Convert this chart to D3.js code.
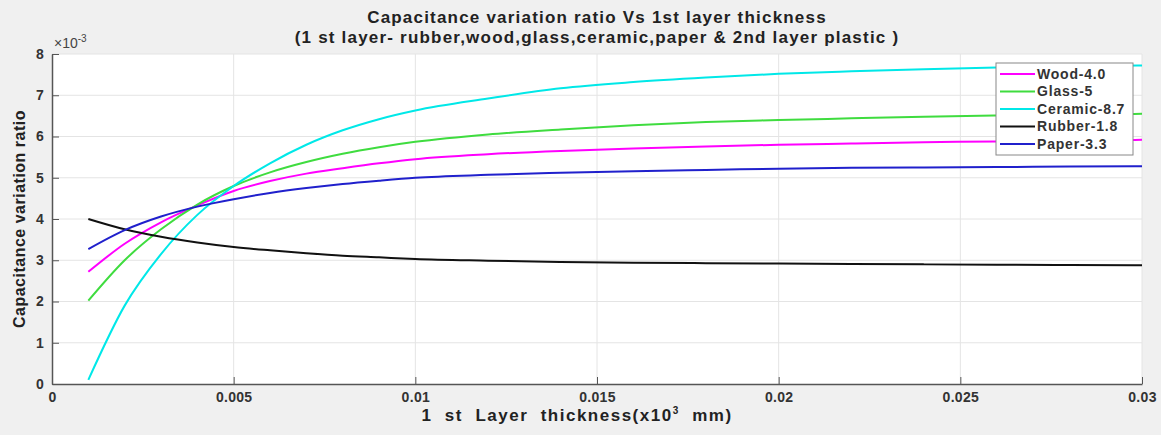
<!DOCTYPE html>
<html>
<head>
<meta charset="utf-8">
<script src="https://cdn.jsdelivr.net/npm/d3@7"></script>
<style>
  body { margin: 0; background: #f0f0f0; }
  svg { display: block; font-family: "Liberation Sans", Arial, sans-serif; }
</style>
</head>
<body>
<div id="chart"></div>
<script>
// thickness (x10^3 mm)
const thickness = [0.001, 0.002, 0.003, 0.004, 0.005, 0.006, 0.007, 0.008, 0.009, 0.01,
                   0.012, 0.014, 0.016, 0.018, 0.02, 0.022, 0.024, 0.026, 0.028, 0.03];

// capacitance variation ratio, in units of 1e-3
const wood    = [2.72, 3.40, 3.92, 4.33, 4.68, 4.92, 5.10, 5.23, 5.35, 5.45, 5.57, 5.65, 5.71, 5.76, 5.80, 5.83, 5.86, 5.88, 5.90, 5.92];
const glass   = [2.02, 3.00, 3.75, 4.35, 4.80, 5.13, 5.38, 5.58, 5.74, 5.87, 6.05, 6.17, 6.27, 6.35, 6.40, 6.44, 6.48, 6.51, 6.53, 6.55];
const ceramic = [0.10, 1.90, 3.15, 4.10, 4.80, 5.35, 5.80, 6.15, 6.42, 6.63, 6.92, 7.17, 7.32, 7.43, 7.52, 7.58, 7.63, 7.67, 7.70, 7.72];
const rubber  = [4.00, 3.75, 3.57, 3.43, 3.32, 3.24, 3.17, 3.11, 3.07, 3.03, 2.99, 2.96, 2.94, 2.93, 2.92, 2.91, 2.90, 2.89, 2.885, 2.88];
const paper   = [3.27, 3.73, 4.06, 4.30, 4.48, 4.63, 4.75, 4.85, 4.93, 5.00, 5.07, 5.12, 5.16, 5.19, 5.22, 5.24, 5.25, 5.26, 5.27, 5.28];

const seriesNames  = ["Wood-4.0", "Glass-5", "Ceramic-8.7", "Rubber-1.8", "Paper-3.3"];
const seriesColors = ["#ff00ff", "#3fdc3f", "#00e8e8", "#111111", "#2020cc"];
const seriesValues = [wood, glass, ceramic, rubber, paper];

const xTicks = [0, 0.005, 0.01, 0.015, 0.02, 0.025, 0.03];
const xTickLabels = ["0", "0.005", "0.01", "0.015", "0.02", "0.025", "0.03"];
const yTicks = [0, 1, 2, 3, 4, 5, 6, 7, 8];

const W = 1161, H = 435;
const margin = {top: 54, right: 19, bottom: 51, left: 52};
const width = W - margin.left - margin.right;
const height = H - margin.top - margin.bottom;

const svg = d3.select("#chart").append("svg")
    .attr("width", W).attr("height", H);

svg.append("rect").attr("width", W).attr("height", H).attr("fill", "#f0f0f0");

const g = svg.append("g")
    .attr("transform", "translate(" + margin.left + "," + margin.top + ")");

const x = d3.scaleLinear().domain([0, 0.03]).range([0, width]);
const y = d3.scaleLinear().domain([0, 8]).range([height, 0]);

// plot area
g.append("rect").attr("width", width).attr("height", height).attr("fill", "#ffffff");

// grid
g.append("g").selectAll("line").data(xTicks.slice(1)).enter().append("line")
    .attr("x1", d => x(d)).attr("x2", d => x(d))
    .attr("y1", 0).attr("y2", height)
    .attr("stroke", "#e4e4e4").attr("stroke-width", 1);
g.append("g").selectAll("line").data(yTicks.slice(1)).enter().append("line")
    .attr("x1", 0).attr("x2", width)
    .attr("y1", d => y(d)).attr("y2", d => y(d))
    .attr("stroke", "#e4e4e4").attr("stroke-width", 1);

// axes (ticks point inward)
const xAxis = d3.axisBottom(x).tickValues(xTicks)
    .tickFormat((d, i) => xTickLabels[i]).tickSizeInner(-7).tickSizeOuter(0).tickPadding(8);
const yAxis = d3.axisLeft(y).tickValues(yTicks)
    .tickFormat(d3.format("d")).tickSizeInner(-7).tickSizeOuter(0).tickPadding(8);

const gx = g.append("g").attr("transform", "translate(0," + height + ")").call(xAxis);
const gy = g.append("g").call(yAxis);

[gx, gy].forEach(a => {
  a.select(".domain").attr("stroke", "#555").attr("stroke-width", 1.5);
  a.selectAll(".tick line").attr("stroke", "#555").attr("stroke-width", 1);
  a.selectAll(".tick text").attr("fill", "#333").attr("font-size", 14)
    .attr("font-weight", "bold").attr("letter-spacing", 0.3)
    .attr("font-family", "Liberation Sans, Arial, sans-serif");
});

// exponent label
const expo = svg.append("text").attr("x", margin.left + 2).attr("y", margin.top - 6)
    .attr("fill", "#444").attr("font-size", 14);
expo.append("tspan").text("\u00d710");
expo.append("tspan").attr("dy", -6).attr("font-size", 10).text("-3");

// lines
const line = d3.line()
    .x((d, i) => x(thickness[i]))
    .y(d => y(d))
    .curve(d3.curveMonotoneX);

g.append("g").selectAll("path").data(seriesValues).enter().append("path")
    .attr("d", d => line(d))
    .attr("fill", "none")
    .attr("stroke", (d, i) => seriesColors[i])
    .attr("stroke-width", 2);

// title
const title = svg.append("text").attr("text-anchor", "middle")
    .attr("font-weight", "bold").attr("font-size", 17).attr("letter-spacing", 1.2)
    .attr("fill", "#222");
title.append("tspan").attr("x", margin.left + width / 2).attr("y", 23)
    .text("Capacitance variation ratio Vs 1st layer thickness");
title.append("tspan").attr("x", margin.left + width / 2).attr("y", 43)
    .text("(1 st layer- rubber,wood,glass,ceramic,paper & 2nd layer plastic  )");

// axis titles
const xl = svg.append("text").attr("text-anchor", "middle")
    .attr("x", 577).attr("y", 421)
    .attr("font-weight", "bold").attr("font-size", 17).attr("letter-spacing", 1.5)
    .attr("fill", "#222").attr("xml:space", "preserve");
xl.append("tspan").text("1  st  Layer  thickness(x10");
xl.append("tspan").attr("dy", -7).attr("font-size", 10).text("3");
xl.append("tspan").attr("dy", 7).text("  mm)");

svg.append("text").attr("text-anchor", "middle")
    .attr("transform", "translate(25," + (margin.top + height / 2) + ") rotate(-90)")
    .attr("font-weight", "bold").attr("font-size", 16).attr("letter-spacing", 0.5)
    .attr("fill", "#222")
    .text("Capacitance variation ratio");

// legend
const lg = svg.append("g").attr("transform", "translate(996,63)");
lg.append("rect").attr("width", 137).attr("height", 92)
    .attr("fill", "#ffffff").attr("stroke", "#888").attr("stroke-width", 1);
const items = lg.selectAll("g.item").data(seriesNames).enter().append("g")
    .attr("transform", (d, i) => "translate(0," + (11 + i * 17.5) + ")");
items.append("line").attr("x1", 4).attr("x2", 39)
    .attr("stroke", (d, i) => seriesColors[i]).attr("stroke-width", 2);
items.append("text").attr("x", 41).attr("dy", "0.35em")
    .attr("font-size", 14).attr("font-weight", "bold").attr("letter-spacing", 0.8)
    .attr("fill", "#333")
    .text(d => d);
</script>
</body>
</html>
